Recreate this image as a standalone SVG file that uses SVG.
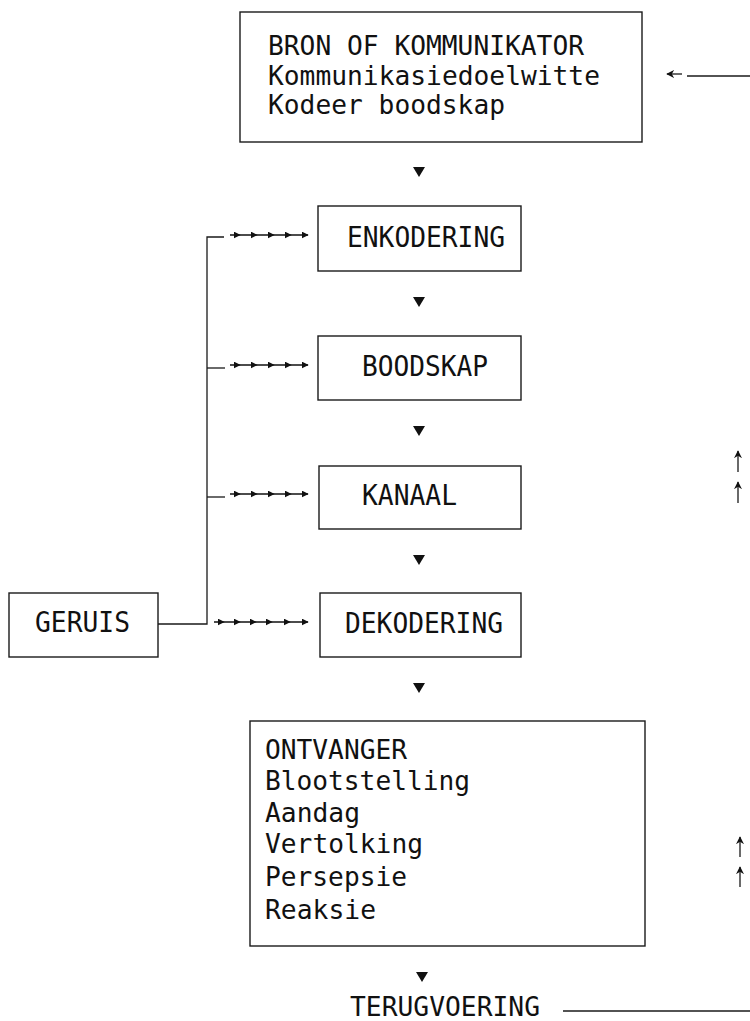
<svg xmlns="http://www.w3.org/2000/svg" width="750" height="1021" viewBox="0 0 750 1021">
<style>
.box{fill:none;stroke:#1a1a1a;stroke-width:1.4}
.ln{fill:none;stroke:#1a1a1a;stroke-width:1.3}
.ch{fill:none;stroke:#111;stroke-width:1.6;marker-mid:url(#ah);marker-end:url(#ah)}
.t{font-family:"DejaVu Sans Mono","Liberation Mono",monospace;font-size:28px;fill:#111}
.m{font-size:27px}
.tri{fill:#111}
</style>
<defs>
<marker id="ah" viewBox="0 0 10 10" refX="9" refY="5" markerWidth="7" markerHeight="7" markerUnits="userSpaceOnUse" orient="auto"><path d="M0,0 L10,5 L0,10 z" fill="#111"/></marker>
<marker id="up" viewBox="0 0 10 10" refX="9" refY="5" markerWidth="8" markerHeight="8" markerUnits="userSpaceOnUse" orient="auto"><path d="M0,0 L10,5 L0,10 L3,5 z" fill="#111"/></marker>
<path id="tr" d="M-6,0 L6,0 L0,10 z"/>
</defs>
<rect width="750" height="1021" fill="#fff"/>

<g id="bron">
<rect class="box" x="240" y="12" width="402" height="130"/>
<text class="t m" x="268" y="55" textLength="316" lengthAdjust="spacingAndGlyphs">BRON OF KOMMUNIKATOR</text>
<text class="t m" x="268" y="85" textLength="332" lengthAdjust="spacingAndGlyphs">Kommunikasiedoelwitte</text>
<text class="t m" x="268" y="114" textLength="237" lengthAdjust="spacingAndGlyphs">Kodeer boodskap</text>
</g>
<g id="enkodering">
<rect class="box" x="318" y="206" width="203" height="65"/>
<text class="t" x="347" y="247" textLength="158" lengthAdjust="spacingAndGlyphs">ENKODERING</text>
</g>
<g id="boodskap">
<rect class="box" x="318" y="336" width="203" height="64"/>
<text class="t" x="362" y="376" textLength="126" lengthAdjust="spacingAndGlyphs">BOODSKAP</text>
</g>
<g id="kanaal">
<rect class="box" x="319" y="466" width="202" height="63"/>
<text class="t" x="362" y="505" textLength="95" lengthAdjust="spacingAndGlyphs">KANAAL</text>
</g>
<g id="dekodering">
<rect class="box" x="320" y="593" width="201" height="64"/>
<text class="t" x="345" y="633" textLength="158" lengthAdjust="spacingAndGlyphs">DEKODERING</text>
</g>
<g id="geruis">
<rect class="box" x="9" y="593" width="149" height="64"/>
<text class="t" x="35" y="632" textLength="95" lengthAdjust="spacingAndGlyphs">GERUIS</text>
</g>
<g id="ontvanger">
<rect class="box" x="250" y="721" width="395" height="225"/>
<text class="t m" x="265" y="759" textLength="142" lengthAdjust="spacingAndGlyphs">ONTVANGER</text>
<text class="t m" x="265" y="790" textLength="205" lengthAdjust="spacingAndGlyphs">Blootstelling</text>
<text class="t m" x="265" y="822" textLength="95" lengthAdjust="spacingAndGlyphs">Aandag</text>
<text class="t m" x="265" y="853" textLength="158" lengthAdjust="spacingAndGlyphs">Vertolking</text>
<text class="t m" x="265" y="886" textLength="142" lengthAdjust="spacingAndGlyphs">Persepsie</text>
<text class="t m" x="265" y="919" textLength="111" lengthAdjust="spacingAndGlyphs">Reaksie</text>
</g>
<g id="terugvoering">
<text class="t m" x="350" y="1016" textLength="190" lengthAdjust="spacingAndGlyphs">TERUGVOERING</text>
</g>

<g id="connectors">
<use href="#tr" x="419" y="167" class="tri"/>
<use href="#tr" x="419" y="297" class="tri"/>
<use href="#tr" x="419" y="426" class="tri"/>
<use href="#tr" x="419" y="555" class="tri"/>
<use href="#tr" x="419" y="683" class="tri"/>
<use href="#tr" x="422" y="972" class="tri"/>

<polyline class="ln" points="158,624 207,624 207,237 224,237"/>
<line class="ln" x1="207" y1="368" x2="225" y2="368"/>
<line class="ln" x1="207" y1="497" x2="225" y2="497"/>

<polyline class="ch" points="230,235 240,235 257,235 274,235 291,235 308,235"/>
<polyline class="ch" points="230,365 240,365 257,365 274,365 291,365 308,365"/>
<polyline class="ch" points="230,494 240,494 257,494 274,494 291,494 308,494"/>
<polyline class="ch" points="214,622 224,622 240,622 256,622 272,622 290,622 308,622"/>

<line class="ln" x1="682" y1="74" x2="667" y2="74" stroke-width="1.8" marker-end="url(#up)"/>
<line class="ln" x1="687" y1="76" x2="750" y2="76"/>

<line class="ln" x1="738" y1="472" x2="738" y2="451" stroke-width="1.8" marker-end="url(#up)"/>
<line class="ln" x1="738" y1="503" x2="738" y2="482" stroke-width="1.8" marker-end="url(#up)"/>
<line class="ln" x1="740" y1="857" x2="740" y2="837" stroke-width="1.8" marker-end="url(#up)"/>
<line class="ln" x1="740" y1="887" x2="740" y2="867" stroke-width="1.8" marker-end="url(#up)"/>

<line class="ln" x1="563" y1="1011" x2="750" y2="1011"/>
</g>
</svg>
